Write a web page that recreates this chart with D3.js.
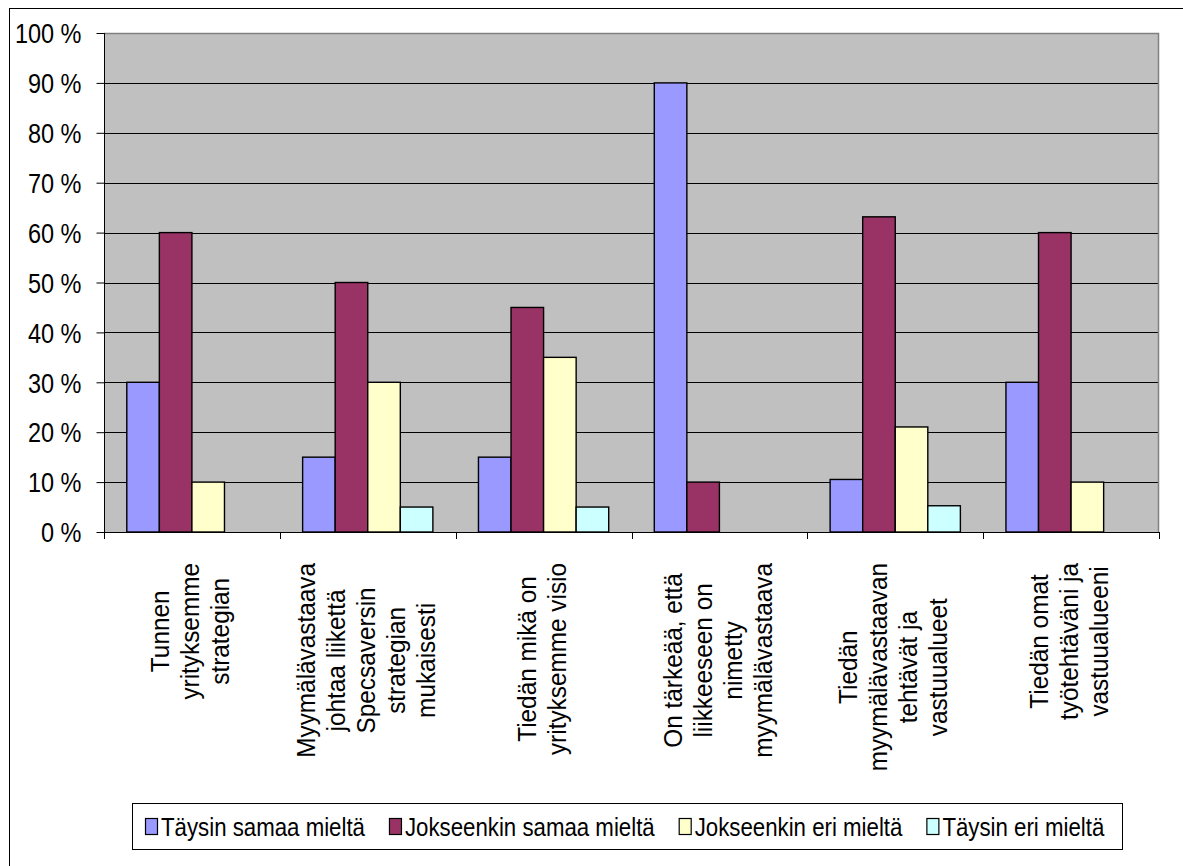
<!DOCTYPE html>
<html>
<head>
<meta charset="utf-8">
<script src="https://cdn.jsdelivr.net/npm/d3@7"></script>
<style>
  html, body { margin: 0; padding: 0; background: #fff; }
  svg { display: block; font-family: "Liberation Sans", Arial, sans-serif; }
</style>
</head>
<body>
<svg id="chart" width="1183" height="866"></svg>
<script>
// Survey statements (category labels, one entry per line)
const categories = [
  ["Tunnen", "yrityksemme", "strategian"],
  ["Myymälävastaava", "johtaa liikettä", "Specsaversin", "strategian", "mukaisesti"],
  ["Tiedän mikä on", "yrityksemme visio"],
  ["On tärkeää, että", "liikkeeseen on", "nimetty", "myymälävastaava"],
  ["Tiedän", "myymälävastaavan", "tehtävät ja", "vastuualueet"],
  ["Tiedän omat", "työtehtäväni ja", "vastuualueeni"]
];

// Response options
const seriesNames = ["Täysin samaa mieltä", "Jokseenkin samaa mieltä", "Jokseenkin eri mieltä", "Täysin eri mieltä"];
const seriesColors = ["#9999FF", "#993366", "#FFFFCC", "#CCFFFF"];

// Share of answers (%) per statement, one array per response option
const taysinSamaa     = [30, 15, 15, 90, 10.53, 30];
const jokseenkinSamaa = [60, 50, 45, 10, 63.16, 60];
const jokseenkinEri   = [10, 30, 35, 0, 21.05, 10];
const taysinEri       = [0, 5, 5, 0, 5.26, 0];

const yTicks = [0, 10, 20, 30, 40, 50, 60, 70, 80, 90, 100];

const seriesValues = [taysinSamaa, jokseenkinSamaa, jokseenkinEri, taysinEri];

// Narrow-set text: glyphs drawn tall and slightly condensed
const condense = 0.87;

const svg = d3.select("#chart");

// Outer chart frame
svg.append("rect")
  .attr("x", 9.5).attr("y", 8.5)
  .attr("width", 1200).attr("height", 900)
  .attr("fill", "#fff").attr("stroke", "#000").attr("stroke-width", 1);

const plot = { left: 104, right: 1159, top: 33, bottom: 532 };

const x = d3.scaleBand()
  .domain(d3.range(categories.length))
  .range([plot.left, plot.right])
  .padding(0);

const xs = d3.scaleBand()
  .domain(d3.range(seriesNames.length))
  .range([0, x.bandwidth()])
  .paddingInner(0)
  .paddingOuter(0.7);

const y = d3.scaleLinear().domain([0, 100]).range([plot.bottom, plot.top]);

// Plot area
svg.append("rect")
  .attr("x", plot.left).attr("y", plot.top)
  .attr("width", plot.right - plot.left).attr("height", plot.bottom - plot.top)
  .attr("fill", "#C0C0C0");

// Gridlines
svg.append("g")
  .selectAll("line")
  .data(yTicks.filter(d => d > 0 && d < 100))
  .join("line")
  .attr("x1", plot.left).attr("x2", plot.right)
  .attr("y1", d => Math.round(y(d)) + 0.5).attr("y2", d => Math.round(y(d)) + 0.5)
  .attr("stroke", "#000").attr("stroke-width", 1);

// Plot area border (top and right)
svg.append("path")
  .attr("d", `M${plot.left},${plot.top + 0.5}H${plot.right - 0.5}V${plot.bottom}`)
  .attr("fill", "none").attr("stroke", "#808080").attr("stroke-width", 1.5);

// Bars
const groups = svg.append("g")
  .selectAll("g")
  .data(categories.map((c, i) => i))
  .join("g")
  .attr("transform", i => `translate(${x(i)},0)`);

groups.selectAll("rect")
  .data(i => seriesValues.map((vals, s) => ({ s, v: vals[i] })).filter(d => d.v > 0))
  .join("rect")
  .attr("x", d => xs(d.s))
  .attr("width", xs.bandwidth())
  .attr("y", d => y(d.v))
  .attr("height", d => y(0) - y(d.v))
  .attr("fill", d => seriesColors[d.s])
  .attr("stroke", "#000").attr("stroke-width", 1.4);

// Y axis
const yAxis = svg.append("g")
  .attr("transform", `translate(${plot.left + 0.5},0)`)
  .call(d3.axisLeft(y).tickValues(yTicks).tickSize(8).tickPadding(14).tickFormat(d => d + " %"));
yAxis.select(".domain").attr("stroke", "#000").attr("d", `M0,${plot.top}V${plot.bottom}`);
yAxis.selectAll(".tick line").attr("stroke", "#000");
yAxis.selectAll(".tick text")
  .attr("fill", "#000")
  .attr("x", 0)
  .attr("dy", "0.36em")
  .attr("transform", `translate(-23,0) scale(${condense},1)`)
  .style("font-size", "27px")
  .attr("font-family", "Liberation Sans, Arial, sans-serif");

// X axis baseline and category boundary ticks
const xAxis = svg.append("g");
xAxis.append("line")
  .attr("x1", plot.left).attr("x2", plot.right)
  .attr("y1", plot.bottom + 0.5).attr("y2", plot.bottom + 0.5)
  .attr("stroke", "#000");
xAxis.selectAll("line.tick")
  .data(d3.range(categories.length + 1))
  .join("line")
  .attr("class", "tick")
  .attr("x1", i => Math.round(plot.left + i * x.step()) + 0.5)
  .attr("x2", i => Math.round(plot.left + i * x.step()) + 0.5)
  .attr("y1", plot.bottom).attr("y2", plot.bottom + 7)
  .attr("stroke", "#000");

// Rotated category labels
const labelTop = 563;
const lineH = 30;
const labelScale = 0.955;
const labels = svg.append("g")
  .selectAll("g")
  .data(categories.map((lines, i) => ({ lines, i })))
  .join("g");

labels.each(function (d) {
  const g = d3.select(this);
  const n = d.lines.length;
  const texts = g.selectAll("text")
    .data(d.lines)
    .join("text")
    .attr("text-anchor", "middle")
    .attr("x", 0)
    .attr("y", 0)
    .attr("dy", "0.36em")
    .attr("transform", (t, k) => `translate(0,${(k - (n - 1) / 2) * lineH}) scale(${labelScale},1)`)
    .style("font-size", "25.5px")
    .attr("fill", "#000")
    .text(t => t);
  let maxLen = 0;
  texts.each(function () { maxLen = Math.max(maxLen, this.getComputedTextLength() * labelScale); });
  const cx = x(d.i) + x.bandwidth() / 2 - 2;
  g.attr("transform", `translate(${cx},${labelTop + maxLen / 2}) rotate(-90)`);
});

// Legend
const legend = svg.append("g");
legend.append("rect")
  .attr("x", 132.5).attr("y", 803.5)
  .attr("width", 990).attr("height", 46)
  .attr("fill", "#fff").attr("stroke", "#000").attr("stroke-width", 1);

let lx = 145;
seriesNames.forEach((name, s) => {
  legend.append("rect")
    .attr("x", lx + 0.5).attr("y", 818.5)
    .attr("width", 12).attr("height", 16)
    .attr("fill", seriesColors[s]).attr("stroke", "#000").attr("stroke-width", 1.2);
  const t = legend.append("text")
    .attr("x", 0).attr("y", 0)
    .attr("dy", "0.36em")
    .attr("transform", `translate(${lx + 16},826.5) scale(0.89,1)`)
    .style("font-size", "25px")
    .attr("fill", "#000")
    .text(name);
  lx += 16 + t.node().getComputedTextLength() * 0.89 + 24;
});
</script>
</body>
</html>
